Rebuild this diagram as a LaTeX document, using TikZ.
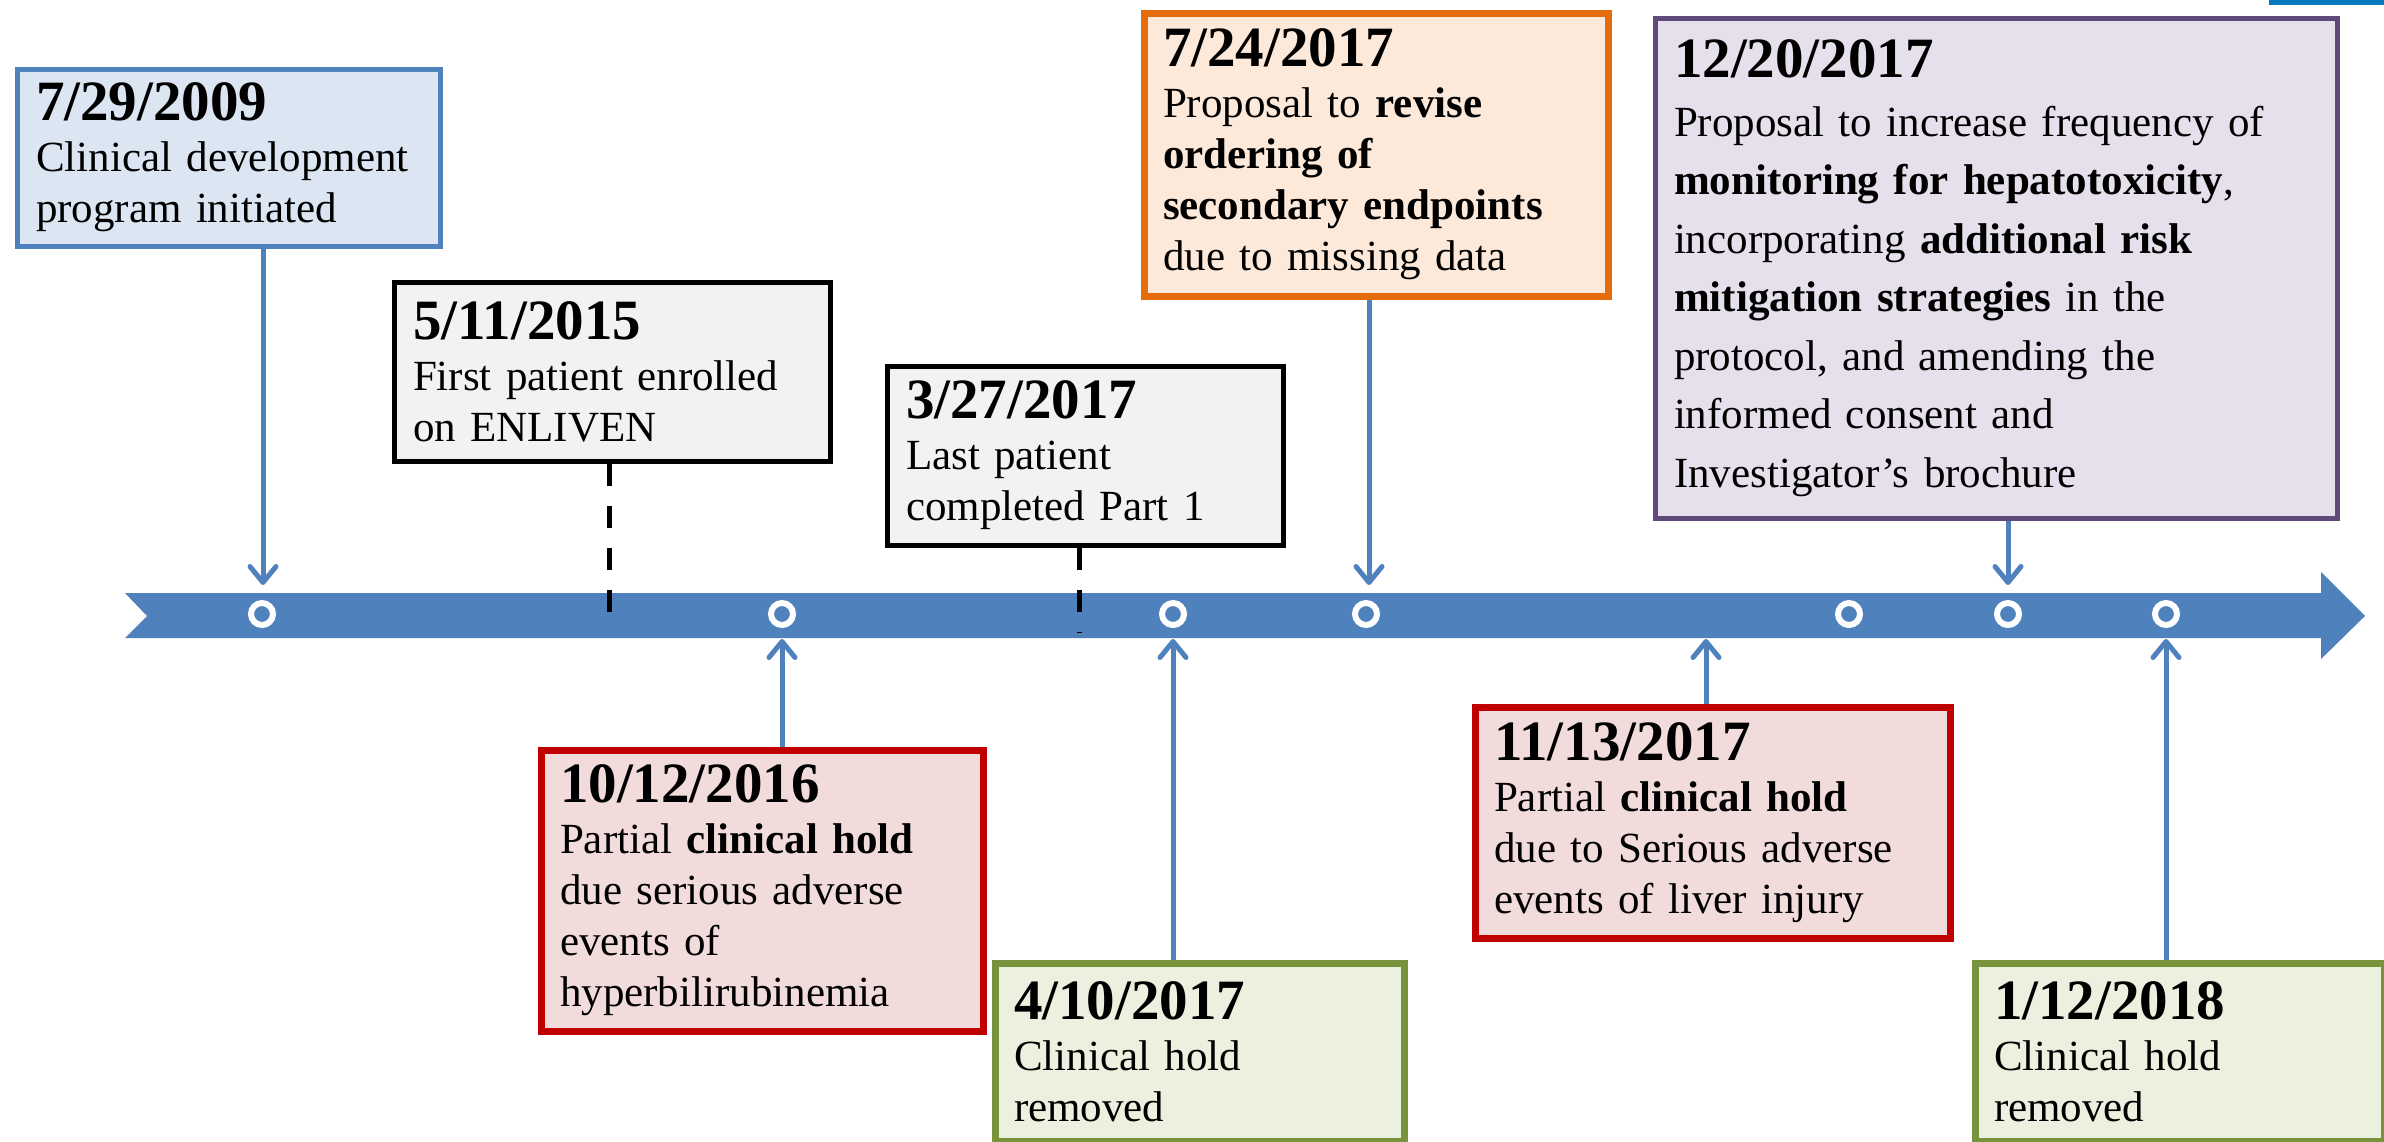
\documentclass[tikz,border=0pt]{standalone}
\usepackage{fontspec}
\setmainfont{Liberation Serif}
\usetikzlibrary{arrows.meta}
\pgfdeclarelayer{background}
\pgfsetlayers{background,main}

\definecolor{tlblue}{RGB}{79,129,189}
\definecolor{topblue}{RGB}{0,121,193}
\definecolor{bluefill}{RGB}{220,230,242}
\definecolor{grayfill}{RGB}{242,242,242}
\definecolor{orangeline}{RGB}{228,108,10}
\definecolor{orangefill}{RGB}{253,233,217}
\definecolor{purpleline}{RGB}{96,74,123}
\definecolor{purplefill}{RGB}{229,224,236}
\definecolor{redline}{RGB}{192,0,0}
\definecolor{redfill}{RGB}{242,220,219}
\definecolor{greenline}{RGB}{119,147,60}
\definecolor{greenfill}{RGB}{235,241,222}

\newcommand{\evdate}[1]{{\fontsize{57}{51}\selectfont\bfseries #1}}

\begin{document}
\begin{tikzpicture}[x=1pt,y=-1pt,
  evbox/.style={draw,anchor=north west,align=left,inner xsep=19pt,inner ysep=0pt,
    font=\fontsize{43}{51}\selectfont},
  evdot/.style={circle,draw=white,line width=6pt,minimum size=22pt,inner sep=0pt},
  evarrow/.style={draw=tlblue,line width=5pt,
    -{Straight Barb[length=16pt,width=26pt,line cap=round,line join=round]}},
  evdash/.style={draw=black,line width=5pt,dash pattern=on 22pt off 20pt}]
\useasboundingbox (0,0) rectangle (2384,1141);

\fill[topblue] (2269,0) rectangle (2384,5);

% events above the line
\node[evbox,line width=5pt,draw=tlblue,fill=bluefill,text width=385pt,minimum height=177pt] (B1) at (14.5,66.5)
  {\evdate{7/29/2009}\\Clinical development\\program initiated};
\node[evbox,line width=5pt,draw=black,fill=grayfill,text width=398pt,minimum height=179pt] (B2) at (391.5,279.5)
  {\evdate{5/11/2015}\\First patient enrolled\\on ENLIVEN};
\node[evbox,line width=5pt,draw=black,fill=grayfill,text width=358pt,minimum height=179pt] (B3) at (884.5,363.5)
  {\evdate{3/27/2017}\\Last patient\\completed Part 1};
\node[evbox,line width=7pt,draw=orangeline,fill=orangefill,text width=426pt,minimum height=283pt] (B4) at (1140.5,9.5)
  {\evdate{7/24/2017}\\Proposal to \textbf{revise}\\\textbf{ordering of}\\\textbf{secondary endpoints}\\due to missing data};
\node[evbox,line width=5pt,draw=purpleline,fill=purplefill,text width=644pt,minimum height=500pt,
  font=\fontsize{43}{58.5}\selectfont] (B5) at (1652.5,15.5)
  {\evdate{12/20/2017}\\Proposal to increase frequency of\\\textbf{monitoring for hepatotoxicity},\\
   incorporating \textbf{additional risk}\\\textbf{mitigation strategies} in the\\protocol, and amending the\\
   informed consent and\\Investigator’s brochure};

% events below the line
\node[evbox,line width=7pt,draw=redline,fill=redfill,text width=404pt,minimum height=281pt] (B6) at (537.5,746.5)
  {\evdate{10/12/2016}\\Partial \textbf{clinical hold}\\due serious adverse\\events of\\hyperbilirubinemia};
\node[evbox,line width=7pt,draw=greenline,fill=greenfill,text width=371pt,minimum height=178pt] (B7) at (991.5,959.5)
  {\evdate{4/10/2017}\\Clinical hold\\removed};
\node[evbox,line width=7pt,draw=redline,fill=redfill,text width=437pt,minimum height=231pt] (B8) at (1471.5,703.5)
  {\evdate{11/13/2017}\\Partial \textbf{clinical hold}\\due to Serious adverse\\events of liver injury};
\node[evbox,line width=7pt,draw=greenline,fill=greenfill,text width=371pt,minimum height=178pt] (B9) at (1971.5,959.5)
  {\evdate{1/12/2018}\\Clinical hold\\removed};

% points on the line
\node[evdot] (P1) at (262,614) {};
\node[evdot] (P2) at (782,614) {};
\node[evdot] (P3) at (1173,614) {};
\node[evdot] (P4) at (1366,614) {};
\node[evdot] (P5) at (1849,614) {};
\node[evdot] (P6) at (2008,614) {};
\node[evdot] (P7) at (2166,614) {};

\coordinate (T1) at (263,585);
\coordinate (T2) at (782,639);
\coordinate (T3) at (1173,639);
\coordinate (T4) at (1369,585);
\coordinate (T5) at (1706,639);
\coordinate (T6) at (2008,585);
\coordinate (T7) at (2166,639);
\coordinate (D1) at (609,618);
\coordinate (D2) at (1079,633);

\begin{pgfonlayer}{background}
\fill[tlblue] (125,593) -- (2321,593) -- (2321,572) -- (2365,616) -- (2321,659)
  -- (2321,638) -- (125,638) -- (147,616) -- cycle;

\draw[evdash] (B2.south -| D1) -- (D1);
\draw[evdash] (B3.south -| D2) -- (D2);

\draw[evarrow] (B1.south -| T1) -- (T1);
\draw[evarrow] (B6.north -| T2) -- (T2);
\draw[evarrow] (B7.north -| T3) -- (T3);
\draw[evarrow] (B4.south -| T4) -- (T4);
\draw[evarrow] (B8.north -| T5) -- (T5);
\draw[evarrow] (B5.south -| T6) -- (T6);
\draw[evarrow] (B9.north -| T7) -- (T7);
\end{pgfonlayer}
\end{tikzpicture}
\end{document}
